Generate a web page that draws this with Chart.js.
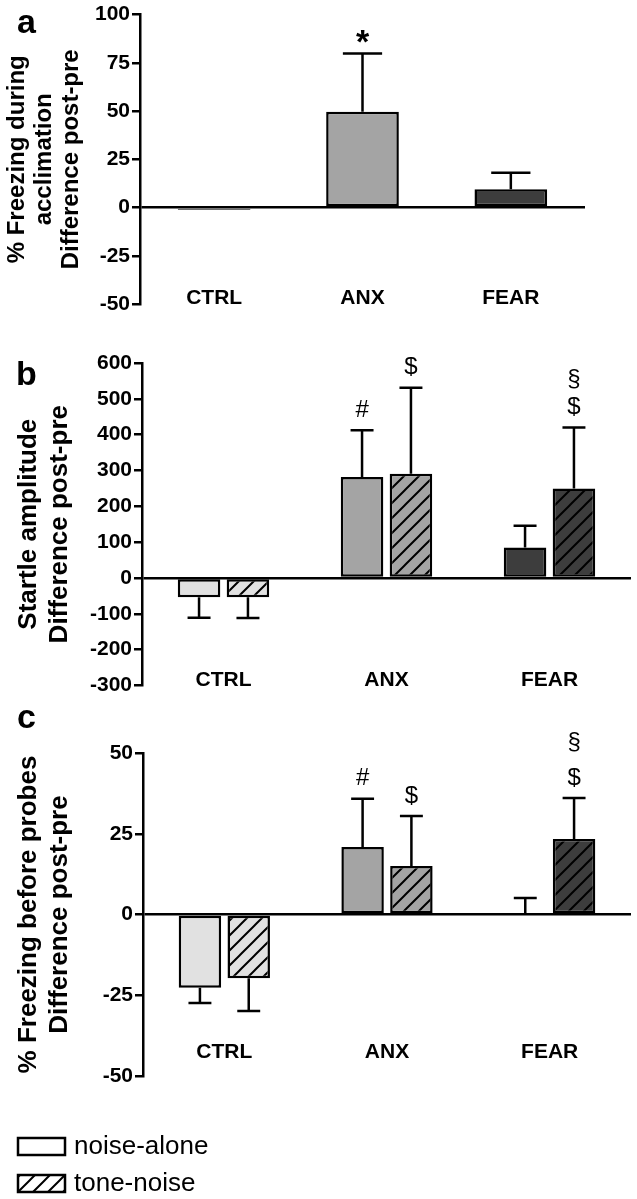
<!DOCTYPE html>
<html>
<head>
<meta charset="utf-8">
<script src="https://cdn.jsdelivr.net/npm/chart.js@4.4.1/dist/chart.umd.min.js"></script>
<style>
  body { margin: 0; background: #fff; }
  canvas { position: absolute; left: 0; }
</style>
</head>
<body>
<canvas id="chartA" style="top:0px" width="637" height="325"></canvas>
<canvas id="chartB" style="top:325px" width="637" height="375"></canvas>
<canvas id="chartC" style="top:700px" width="637" height="499"></canvas>
<script>
const groups = ["CTRL", "ANX", "FEAR"];
const seriesNames = ["noise-alone", "tone-noise"];

// a: % freezing during acclimation, difference post-pre
const acclMean = [-1.2, 49.6, 9.5];
const acclErrTop = [null, 79.8, 18];
const acclMarks = [[], ["*"], []];
const acclTicks = [-50, -25, 0, 25, 50, 75, 100];

// b: startle amplitude, difference post-pre
const startleNoise = [-54, 282, 85];
const startleNoiseErr = [-111, 412, 146];
const startleTone = [-54, 291, 250];
const startleToneErr = [-112, 531, 420];
const startleNoiseMarks = [[], ["#"], []];
const startleToneMarks = [[], ["$"], ["$", "§"]];
const startleTicks = [-300, -200, -100, 0, 100, 200, 300, 400, 500, 600];

// c: % freezing before probes, difference post-pre
const probeNoise = [-22.7, 20.9, 0];
const probeNoiseErr = [-27.4, 35.8, 5.1];
const probeTone = [-19.7, 15, 23.4];
const probeToneErr = [-29.9, 30.5, 36.1];
const probeNoiseMarks = [[], ["#"], []];
const probeToneMarks = [[], ["$"], ["$", "§"]];
const probeTicks = [-50, -25, 0, 25, 50];

const groupColors = ["#e1e1e1", "#a4a4a4", "#3d3d3d"];

Chart.defaults.font.family = "'Liberation Sans', Arial, sans-serif";
Chart.defaults.color = "#000";

function hatch(color) {
    const s = 15;
    const c = document.createElement("canvas");
    c.width = s; c.height = s;
    const g = c.getContext("2d");
    g.fillStyle = color;
    g.fillRect(0, 0, s, s);
    g.strokeStyle = "#000";
    g.lineWidth = 2;
    g.beginPath();
    g.moveTo(-1, s + 1); g.lineTo(s + 1, -1);
    g.moveTo(-s / 2, s / 2); g.lineTo(s / 2, -s / 2);
    g.moveTo(s / 2, s * 1.5); g.lineTo(s * 1.5, s / 2);
    g.stroke();
    return g.createPattern(c, "repeat");
}

// error bars + significance marks
const errorBars = {
    id: "errorBars",
    afterDatasetsDraw(chart, args, opts) {
        const ctx = chart.ctx;
        const y = chart.scales.y;
        chart.data.datasets.forEach((ds, i) => {
            const meta = chart.getDatasetMeta(i);
            meta.data.forEach((bar, j) => {
                const e = ds.errTop[j];
                if (e == null) return;
                const ye = y.getPixelForValue(e);
                const half = bar.width * 0.27;
                ctx.save();
                ctx.strokeStyle = "#000";
                ctx.lineWidth = 2.5;
                ctx.beginPath();
                ctx.moveTo(bar.x, bar.y);
                ctx.lineTo(bar.x, ye);
                ctx.moveTo(bar.x - half, ye);
                ctx.lineTo(bar.x + half, ye);
                ctx.stroke();
                ctx.fillStyle = "#000";
                ctx.font = opts.markFont;
                ctx.textAlign = "center";
                ctx.textBaseline = "middle";
                (ds.marks[j] || []).forEach((m, k) => {
                    ctx.fillText(m, bar.x, ye - opts.markGap - k * opts.markStep);
                });
                ctx.restore();
            });
        });
    }
};

// panel letter and legend
const decor = {
    id: "decor",
    afterDraw(chart, args, opts) {
        const ctx = chart.ctx;
        ctx.save();
        ctx.fillStyle = "#000";
        ctx.font = "bold 34px 'Liberation Sans', Arial, sans-serif";
        ctx.textBaseline = "alphabetic";
        ctx.fillText(opts.letter, opts.lx, opts.ly);
        if (opts.legend) {
            const fills = ["#fff", hatch("#fff")];
            seriesNames.forEach((name, k) => {
                const top = opts.legend.y + k * opts.legend.step;
                ctx.fillStyle = fills[k];
                ctx.fillRect(18, top, 47, 17);
                ctx.strokeStyle = "#000";
                ctx.lineWidth = 2.5;
                ctx.strokeRect(18, top, 47, 17);
                ctx.fillStyle = "#000";
                ctx.font = "26px 'Liberation Sans', Arial, sans-serif";
                ctx.textBaseline = "middle";
                ctx.fillText(name, 74, top + 9);
            });
        }
        ctx.restore();
    }
};

function makeChart(id, datasets, ticks, title, layout) {
    return new Chart(document.getElementById(id), {
        type: "bar",
        data: { labels: groups, datasets: datasets },
        options: {
            responsive: false,
            animation: false,
            devicePixelRatio: 1,
            categoryPercentage: layout.catPct,
            barPercentage: layout.barPct,
            layout: { autoPadding: false, padding: layout.padding },
            plugins: {
                legend: { display: false },
                tooltip: { enabled: false },
                errorBars: layout.marks,
                decor: layout.decor
            },
            scales: {
                x: {
                    grid: { display: false },
                    border: { display: false },
                    // mirrored so the labels sit inside the plot, above the axis end
                    ticks: { mirror: true, color: "#000", font: { size: 21, weight: "bold" }, padding: layout.labelPad },
                    afterFit: s => { s.height = 0; }
                },
                y: {
                    min: ticks[0],
                    max: ticks[ticks.length - 1],
                    afterBuildTicks: s => { s.ticks = ticks.map(v => ({ value: v })); },
                    ticks: { color: "#000", font: { size: 21, weight: "bold" }, padding: 2 },
                    grid: {
                        color: c => (c.tick && c.tick.value === 0 ? "#000" : "rgba(0,0,0,0)"),
                        lineWidth: 2.5,
                        tickColor: "#000",
                        tickLength: 8,
                        tickWidth: 2.5
                    },
                    border: { color: "#000", width: 2.5 },
                    title: {
                        display: true,
                        text: title,
                        color: "#000",
                        font: { size: layout.titleSize, weight: "bold", lineHeight: layout.titleLine },
                        padding: { top: layout.titlePad, bottom: 0 }
                    },
                    afterFit: s => { s.width = layout.yWidth; }
                }
            }
        },
        plugins: [errorBars, decor]
    });
}

makeChart("chartA", [{
    label: "acclimation",
    data: acclMean,
    errTop: acclErrTop,
    marks: acclMarks,
    backgroundColor: groupColors,
    borderColor: "#000",
    borderWidth: 2.5,
    borderSkipped: false
}], acclTicks, ["% Freezing during", "acclimation", "Difference post-pre"], {
    catPct: 0.7, barPct: 0.7,
    padding: { left: 0, right: 52, top: 12, bottom: 21 },
    labelPad: -7, yWidth: 140,
    titleSize: 24, titleLine: 1.125, titlePad: 4,
    marks: { markFont: "bold 34px 'Liberation Sans', Arial, sans-serif", markGap: 10, markStep: 30 },
    decor: { letter: "a", lx: 17, ly: 33 }
});

makeChart("chartB", [{
    label: seriesNames[0],
    data: startleNoise,
    errTop: startleNoiseErr,
    marks: startleNoiseMarks,
    backgroundColor: groupColors,
    borderColor: "#000",
    borderWidth: 2.5,
    borderSkipped: false
}, {
    label: seriesNames[1],
    data: startleTone,
    errTop: startleToneErr,
    marks: startleToneMarks,
    backgroundColor: groupColors.map(hatch),
    borderColor: "#000",
    borderWidth: 2.5,
    borderSkipped: false
}], startleTicks, ["Startle amplitude", "Difference post-pre"], {
    catPct: 0.6, barPct: 0.87,
    padding: { left: 0, right: 6, top: 38, bottom: 10 },
    labelPad: -7, yWidth: 142,
    titleSize: 26, titleLine: 1.17, titlePad: 14,
    marks: { markFont: "24px 'Liberation Sans', Arial, sans-serif", markGap: 20, markStep: 28 },
    decor: { letter: "b", lx: 16, ly: 60 }
});

makeChart("chartC", [{
    label: seriesNames[0],
    data: probeNoise,
    errTop: probeNoiseErr,
    marks: probeNoiseMarks,
    backgroundColor: groupColors,
    borderColor: "#000",
    borderWidth: 2.5,
    borderSkipped: false
}, {
    label: seriesNames[1],
    data: probeTone,
    errTop: probeToneErr,
    marks: probeToneMarks,
    backgroundColor: groupColors.map(hatch),
    borderColor: "#000",
    borderWidth: 2.5,
    borderSkipped: false
}], probeTicks, ["% Freezing before probes", "Difference post-pre"], {
    catPct: 0.6, barPct: 0.87,
    padding: { left: 0, right: 6, top: 53, bottom: 123 },
    labelPad: 11, yWidth: 143,
    titleSize: 26, titleLine: 1.17, titlePad: 14,
    marks: { markFont: "24px 'Liberation Sans', Arial, sans-serif", markGap: 20, markStep: 36 },
    decor: { letter: "c", lx: 17, ly: 28, legend: { y: 438, step: 37 } }
});
</script>
</body>
</html>
